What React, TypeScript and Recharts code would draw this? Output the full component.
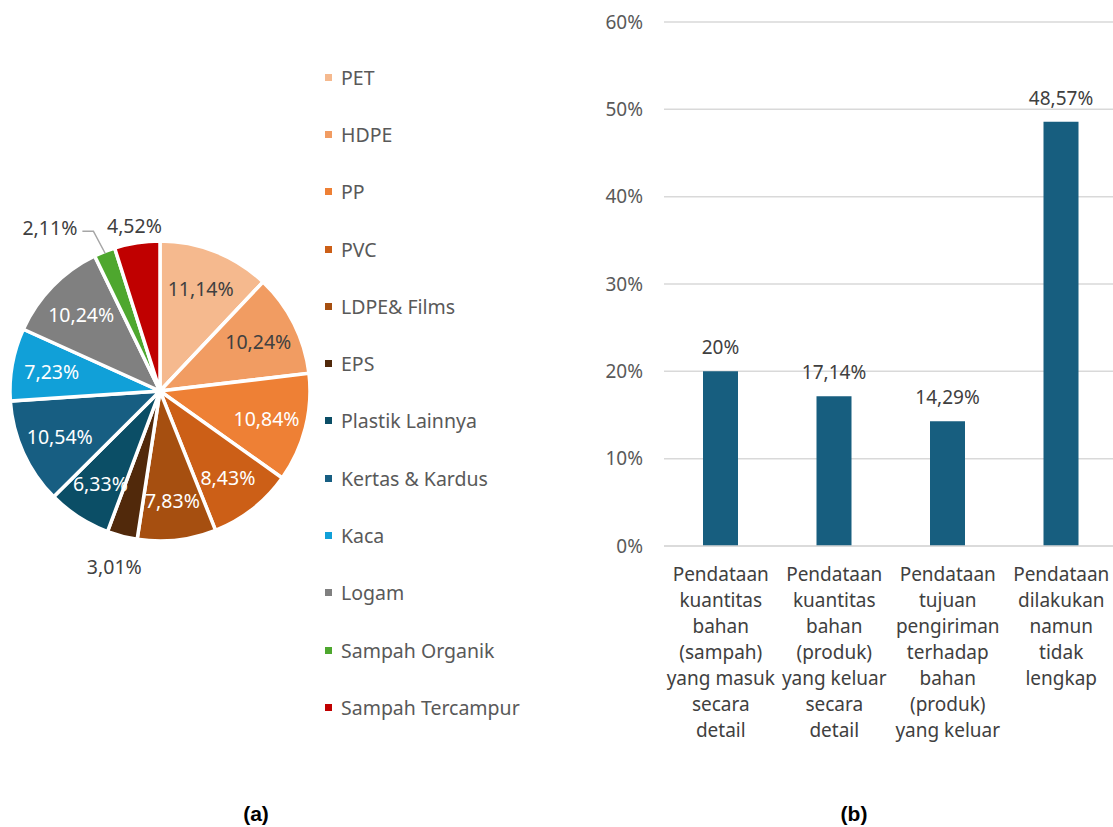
import React from 'react';
import {
  PieChart,
  Pie,
  Cell,
  Legend,
  BarChart,
  Bar,
  XAxis,
  YAxis,
  CartesianGrid,
  LabelList,
} from 'recharts';

const wasteTypes = [
  'PET',
  'HDPE',
  'PP',
  'PVC',
  'LDPE& Films',
  'EPS',
  'Plastik Lainnya',
  'Kertas & Kardus',
  'Kaca',
  'Logam',
  'Sampah Organik',
  'Sampah Tercampur',
];
const wasteShares = [11.14, 10.24, 10.84, 8.43, 7.83, 3.01, 6.33, 10.54, 7.23, 10.24, 2.11, 4.52];

const recordTypes = ['masuk', 'keluar', 'tujuan', 'tidak lengkap'];
const recordTickLines = [
  ['Pendataan', 'kuantitas', 'bahan', '(sampah)', 'yang masuk', 'secara', 'detail'],
  ['Pendataan', 'kuantitas', 'bahan', '(produk)', 'yang keluar', 'secara', 'detail'],
  ['Pendataan', 'tujuan', 'pengiriman', 'terhadap', 'bahan', '(produk)', 'yang keluar'],
  ['Pendataan', 'dilakukan', 'namun', 'tidak', 'lengkap'],
];
const recordShares = [20, 17.14, 14.29, 48.57];
const percentTicks = [0, 10, 20, 30, 40, 50, 60];

const SLICE_COLORS = [
  '#F5B98E',
  '#F19C62',
  '#EE8035',
  '#CC5F17',
  '#A64F10',
  '#51290B',
  '#0B4E66',
  '#175E82',
  '#11A0D8',
  '#808080',
  '#4EA72E',
  '#C00000',
];
const DARK_LABELS = new Set(['PET', 'HDPE']);
// how far past the rim the outside labels sit
const OUTSIDE_GAP: Record<string, number> = { EPS: 31, 'Sampah Tercampur': 17 };
const LEADER_LABELS = new Set(['Sampah Organik']);

const FONT = '"Noto Sans", sans-serif';
const TEXT = '#404040';
const RAD = Math.PI / 180;

const pieData = wasteTypes.map((name, i) => ({ name, value: wasteShares[i] }));
const barData = recordTypes.map((name, i) => ({ name, value: recordShares[i] }));

function formatPct(v: number): string {
  return `${String(v).replace('.', ',')}%`;
}

function renderSliceLabel(props: any) {
  const { cx, cy, midAngle, outerRadius, name, value } = props;
  const cos = Math.cos(-midAngle * RAD);
  const sin = Math.sin(-midAngle * RAD);
  const text = formatPct(value);

  if (LEADER_LABELS.has(name)) {
    const sx = cx + (outerRadius - 2) * cos;
    const sy = cy + (outerRadius - 2) * sin;
    const mx = cx + (outerRadius + 22) * cos - 3;
    const my = cy + (outerRadius + 22) * sin;
    const ex = mx - 11;
    return (
      <g>
        <polyline
          points={`${sx},${sy} ${mx},${my} ${ex},${my}`}
          fill="none"
          stroke="#A6A6A6"
          strokeWidth={1.5}
        />
        <text x={ex - 5} y={my - 4} textAnchor="end" dominantBaseline="central" fill={TEXT} fontSize={19.5} fontFamily={FONT}>
          {text}
        </text>
      </g>
    );
  }

  const gap = OUTSIDE_GAP[name];
  const outside = gap !== undefined;
  const r = outside ? outerRadius + gap : 110;
  const x = cx + r * cos;
  const y = cy + r * sin;
  const fill = outside || DARK_LABELS.has(name) ? TEXT : '#FFFFFF';
  return (
    <text x={x} y={y} textAnchor="middle" dominantBaseline="central" fill={fill} fontSize={19.5} fontFamily={FONT}>
      {text}
    </text>
  );
}

function renderLegend() {
  return (
    <div style={{ display: 'flex', flexDirection: 'column' }}>
      {wasteTypes.map((name, i) => (
        <div key={name} style={{ height: 57.3, display: 'flex', alignItems: 'center' }}>
          <span style={{ width: 7, height: 7, background: SLICE_COLORS[i], marginRight: 9 }} />
          <span style={{ fontFamily: FONT, fontSize: 19.5, color: '#595959', whiteSpace: 'nowrap' }}>{name}</span>
        </div>
      ))}
    </div>
  );
}

function RecordTick(props: any) {
  const { x, y, index } = props;
  const lines = recordTickLines[index] || [];
  return (
    <text x={x} y={y + 35} textAnchor="middle" fill={TEXT} fontSize={19} fontFamily={FONT}>
      {lines.map((line, i) => (
        <tspan key={i} x={x} dy={i === 0 ? 0 : 26}>
          {line}
        </tspan>
      ))}
    </text>
  );
}

const captionStyle: React.CSSProperties = {
  position: 'absolute',
  width: 100,
  top: 802,
  textAlign: 'center',
  fontFamily: '"Liberation Sans", Arial, sans-serif',
  fontWeight: 'bold',
  fontSize: 21,
  color: '#000',
};

export default function App() {
  return (
    <div
      style={{
        position: 'fixed',
        left: 0,
        top: 0,
        width: 1113,
        height: 827,
        overflow: 'hidden',
        background: '#fff',
      }}
    >
      <div style={{ position: 'absolute', left: 0, top: 0 }}>
        <PieChart width={560} height={827} margin={{ top: 0, right: 0, bottom: 0, left: 0 }}>
          <Pie
            data={pieData}
            dataKey="value"
            nameKey="name"
            cx={160}
            cy={391}
            outerRadius={150}
            startAngle={90}
            endAngle={-270}
            stroke="#FFFFFF"
            strokeWidth={3.5}
            label={renderSliceLabel}
            labelLine={false}
            isAnimationActive={false}
          >
            {pieData.map((d, i) => (
              <Cell key={d.name} fill={SLICE_COLORS[i]} />
            ))}
          </Pie>
          <Legend
            content={renderLegend}
            wrapperStyle={{ position: 'absolute', left: 325, top: 48.5, width: 230 }}
          />
        </PieChart>
      </div>

      <div style={{ position: 'absolute', left: 560, top: 0 }}>
        <BarChart width={560} height={827} data={barData} margin={{ top: 22, right: 2, bottom: 81, left: 0 }}>
          <CartesianGrid vertical={false} stroke="#D9D9D9" strokeWidth={1.5} />
          <XAxis
            dataKey="name"
            axisLine={{ stroke: '#D9D9D9', strokeWidth: 1.5 }}
            tickLine={false}
            tickSize={0}
            tickMargin={0}
            height={200}
            interval={0}
            tick={<RecordTick />}
          />
          <YAxis
            domain={[0, 60]}
            ticks={percentTicks}
            tickFormatter={(v) => `${v}%`}
            axisLine={false}
            tickLine={false}
            tickSize={0}
            tickMargin={21}
            width={104}
            tick={{ fill: '#595959', fontSize: 19, fontFamily: FONT }}
          />
          <Bar dataKey="value" fill="#175E7F" barSize={35} isAnimationActive={false}>
            <LabelList
              dataKey="value"
              position="top"
              offset={17}
              formatter={(v: any) => formatPct(Number(v))}
              style={{ fill: TEXT, fontSize: 19, fontFamily: FONT }}
            />
          </Bar>
        </BarChart>
      </div>

      <div style={{ ...captionStyle, left: 206 }}>(a)</div>
      <div style={{ ...captionStyle, left: 804 }}>(b)</div>
    </div>
  );
}
